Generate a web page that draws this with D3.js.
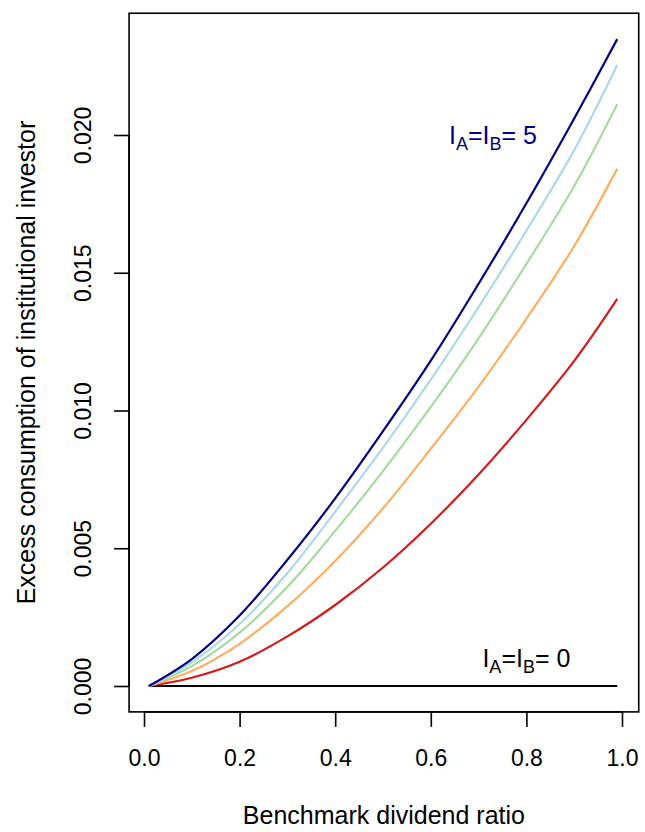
<!DOCTYPE html>
<html>
<head>
<meta charset="utf-8">
<script src="https://cdn.jsdelivr.net/npm/d3@7"></script>
<style>
  body { margin: 0; background: #fff; }
  text { font-family: "Liberation Sans", Arial, sans-serif; }
</style>
</head>
<body>
<svg id="chart" width="645" height="832"></svg>
<script>
// benchmark dividend ratio
var ratio = [0.01, 0.1, 0.2, 0.3, 0.4, 0.5, 0.6, 0.7, 0.8, 0.9, 0.99];
// excess consumption, one series per curve (bottom to top)
var redVals    = [0, 0.0003, 0.00088, 0.0018, 0.00294, 0.0043, 0.00589, 0.00768, 0.00966, 0.0118, 0.01405];
var orangeVals = [0, 0.00054, 0.00153, 0.0029, 0.00454, 0.00645, 0.00861, 0.01087, 0.01333, 0.01597, 0.01877];
var greenVals  = [0, 0.00072, 0.00194, 0.0036, 0.00563, 0.0078, 0.01013, 0.01262, 0.01532, 0.01815, 0.02112];
var blueVals   = [0, 0.00086, 0.00225, 0.0041, 0.00633, 0.00865, 0.01112, 0.01375, 0.01653, 0.01945, 0.02254];
var navyVals   = [0, 0.00098, 0.00256, 0.00458, 0.00681, 0.00925, 0.01181, 0.0146, 0.01752, 0.0206, 0.02348];
var zeroVals   = [0, 0, 0, 0, 0, 0, 0, 0, 0, 0, 0];

var xTicks = [0, 0.2, 0.4, 0.6, 0.8, 1.0];
var yTicks = [0, 0.005, 0.010, 0.015, 0.020];

var series = [
  {vals: zeroVals, color: "#000000"},
  {vals: redVals, color: "#d7191c"},
  {vals: orangeVals, color: "#fdae61"},
  {vals: greenVals, color: "#a6dba0"},
  {vals: blueVals, color: "#abd9e9"},
  {vals: navyVals, color: "#00008b"}
];

var svg = d3.select("#chart");
var x = d3.scaleLinear().domain([0, 1]).range([144, 622]);
var y = d3.scaleLinear().domain([0, 0.02]).range([686, 135]);

// R-style 4% padding for the box
var xMin = -0.0312, xMax = 1.035;
var yMin = -0.00094, yMax = 0.02442;

svg.append("rect")
  .attr("x", x(xMin)).attr("y", y(yMax))
  .attr("width", x(xMax) - x(xMin))
  .attr("height", y(yMin) - y(yMax))
  .attr("fill", "none").attr("stroke", "#000").attr("stroke-width", 1.6);

var line = d3.line()
  .x(function(d, i) { return x(ratio[i]); })
  .y(function(d) { return y(d); })
  .curve(d3.curveCatmullRom.alpha(0.5));

svg.selectAll("path.curve")
  .data(series)
  .enter().append("path")
  .attr("class", "curve")
  .attr("d", function(d) { return line(d.vals); })
  .attr("fill", "none")
  .attr("stroke", function(d) { return d.color; })
  .attr("stroke-width", 2.2);

// x axis
var xAxis = svg.append("g")
  .attr("transform", "translate(0," + y(yMin) + ")")
  .call(d3.axisBottom(x).tickValues(xTicks).tickFormat(d3.format(".1f")).tickSize(15).tickPadding(23));
xAxis.select(".domain").attr("d", "M" + x(0) + ",0H" + x(1)).attr("stroke-width", 1.6);
xAxis.selectAll(".tick line").attr("stroke-width", 1.6);
xAxis.selectAll(".tick text").attr("font-size", 23).attr("fill", "#000")
  .attr("font-family", "Liberation Sans, Arial, sans-serif");

// y axis
var yAxis = svg.append("g")
  .attr("transform", "translate(" + x(xMin) + ",0)")
  .call(d3.axisLeft(y).tickValues(yTicks).tickFormat(d3.format(".3f")).tickSize(15));
yAxis.select(".domain").attr("d", "M0," + y(0) + "V" + y(0.02)).attr("stroke-width", 1.6);
yAxis.selectAll(".tick line").attr("stroke-width", 1.6);
yAxis.selectAll(".tick text")
  .attr("font-size", 23).attr("fill", "#000")
  .attr("font-family", "Liberation Sans, Arial, sans-serif")
  .attr("x", 0).attr("dy", 0)
  .attr("text-anchor", "middle")
  .attr("transform", "translate(-38,0) rotate(-90)");

// axis titles
svg.append("text")
  .attr("x", (x(xMin) + x(xMax)) / 2).attr("y", 824)
  .attr("text-anchor", "middle").attr("font-size", 25)
  .text("Benchmark dividend ratio");

svg.append("text")
  .attr("transform", "translate(35," + (y(yMin) + y(yMax)) / 2 + ") rotate(-90)")
  .attr("text-anchor", "middle").attr("font-size", 25)
  .text("Excess consumption of institutional investor");

// curve labels
function label(px, py, val, color) {
  var t = svg.append("text")
    .attr("x", x(px)).attr("y", y(py) + 9)
    .attr("text-anchor", "middle").attr("font-size", 25)
    .attr("fill", color);
  t.append("tspan").text("I");
  t.append("tspan").attr("font-size", 18).attr("dy", 6).text("A");
  t.append("tspan").attr("dy", -6).text("=I");
  t.append("tspan").attr("font-size", 18).attr("dy", 6).text("B");
  t.append("tspan").attr("dy", -6).text("= " + val);
}
label(0.73, 0.02, 5, "#00008b");
label(0.80, 0.001, 0, "#000");
</script>
</body>
</html>
